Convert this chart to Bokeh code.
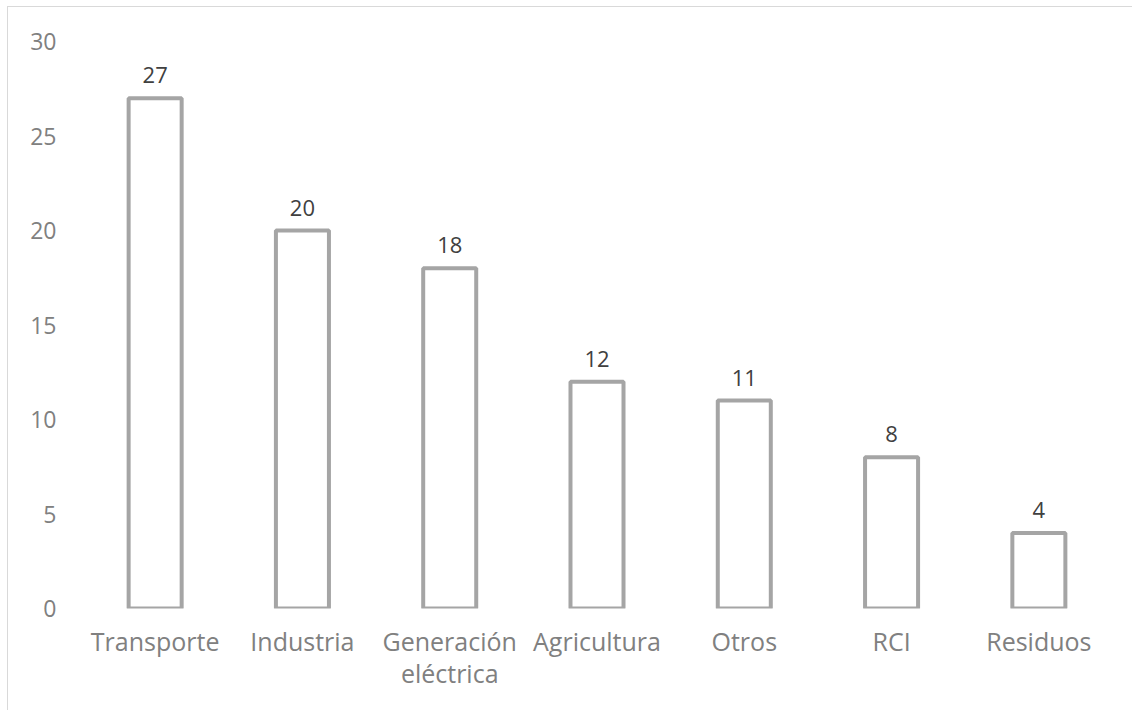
from bokeh.plotting import figure
from bokeh.models import ColumnDataSource, LabelSet, FixedTicker, Range1d
from bokeh.core.properties import value
from bokeh.embed import file_html
from bokeh.resources import INLINE

categories = ["Transporte", "Industria", "Generación\neléctrica", "Agricultura", "Otros", "RCI", "Residuos"]
values = [27, 20, 18, 12, 11, 8, 4]
y_ticks = [0, 5, 10, 15, 20, 25, 30]

src = ColumnDataSource(dict(cat=categories, val=values, lab=[str(v) for v in values]))

p = figure(x_range=categories, y_range=Range1d(0, 30), width=1125, height=704,
           output_backend="svg", toolbar_location=None,
           min_border_left=73, min_border_right=21, min_border_top=34, min_border_bottom=103,
           margin=(6, 0, 0, 7))
p.styles = {"border-top": "1px solid #d9d9d9", "border-left": "1px solid #d9d9d9"}
p.outline_line_color = None
p.background_fill_color = "white"
p.border_fill_color = "white"

p.vbar(x="cat", top="val", width=0.36, bottom=0, source=src,
       fill_color="white", line_color="#a5a5a5", line_width=4)

labels = LabelSet(x="cat", y="val", text="lab", source=src, y_offset=15,
                  text_align="center", text_baseline="bottom",
                  text_color="#404040", text_font=value("Open Sans"), text_font_size="22px")
p.add_layout(labels)

p.xgrid.grid_line_color = None
p.ygrid.grid_line_color = None

p.yaxis.ticker = FixedTicker(ticks=y_ticks)
p.yaxis.axis_line_color = None
p.yaxis.major_tick_line_color = None
p.yaxis.minor_tick_line_color = None
p.yaxis.major_label_standoff = 19
p.yaxis.major_label_text_font = "Open Sans"
p.yaxis.major_label_text_font_size = "23px"
p.yaxis.major_label_text_color = "#808080"

p.xaxis.axis_line_color = None
p.xaxis.major_tick_line_color = None
p.xaxis.major_label_standoff = 9
p.xaxis.major_label_text_font = "Open Sans"
p.xaxis.major_label_text_font_size = "25px"
p.xaxis.major_label_text_line_height = 0.95
p.xaxis.major_label_text_color = "#808080"

open("out.html", "w").write(file_html(p, INLINE))
